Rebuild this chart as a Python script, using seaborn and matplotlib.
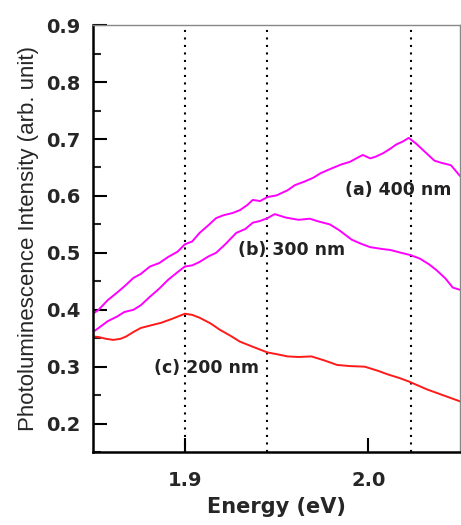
import numpy as np
import pandas as pd
import matplotlib
matplotlib.use("Agg")
import matplotlib.pyplot as plt
import seaborn as sns
from matplotlib.ticker import MultipleLocator

# (a) 400 nm
energy_a = [1.850, 1.853, 1.858, 1.863, 1.867, 1.872, 1.876, 1.881, 1.886, 1.891, 1.896,
            1.900, 1.904, 1.908, 1.913, 1.917, 1.921, 1.926, 1.930, 1.934, 1.937, 1.941,
            1.945, 1.950, 1.956, 1.960, 1.965, 1.970, 1.974, 1.979, 1.985, 1.990, 1.994,
            1.997, 2.001, 2.004, 2.008, 2.012, 2.015, 2.019, 2.022, 2.026, 2.030, 2.036,
            2.040, 2.045, 2.050]
pl_a = [0.393, 0.400, 0.417, 0.430, 0.441, 0.456, 0.463, 0.476, 0.482, 0.493, 0.502,
        0.515, 0.520, 0.535, 0.549, 0.561, 0.566, 0.570, 0.575, 0.584, 0.593, 0.591,
        0.598, 0.601, 0.610, 0.619, 0.625, 0.632, 0.640, 0.647, 0.655, 0.660, 0.667,
        0.672, 0.666, 0.669, 0.675, 0.683, 0.690, 0.696, 0.702, 0.692, 0.680, 0.662,
        0.658, 0.654, 0.635]

# (b) 300 nm
energy_b = [1.850, 1.853, 1.858, 1.863, 1.867, 1.872, 1.876, 1.881, 1.886, 1.891, 1.896,
            1.900, 1.904, 1.908, 1.913, 1.917, 1.922, 1.928, 1.933, 1.937, 1.941, 1.945,
            1.949, 1.955, 1.962, 1.968, 1.973, 1.979, 1.984, 1.991, 1.996, 2.001, 2.007,
            2.012, 2.018, 2.023, 2.028, 2.033, 2.037, 2.042, 2.046, 2.050]
pl_b = [0.361, 0.368, 0.380, 0.388, 0.396, 0.400, 0.408, 0.423, 0.437, 0.453, 0.466,
        0.476, 0.478, 0.484, 0.494, 0.500, 0.515, 0.535, 0.542, 0.553, 0.556, 0.561,
        0.568, 0.562, 0.558, 0.560, 0.555, 0.550, 0.540, 0.523, 0.516, 0.510, 0.507,
        0.505, 0.500, 0.496, 0.490, 0.480, 0.470, 0.455, 0.439, 0.435]

# (c) 200 nm
energy_c = [1.850, 1.853, 1.857, 1.861, 1.865, 1.868, 1.872, 1.876, 1.882, 1.887, 1.893,
            1.900, 1.904, 1.908, 1.914, 1.919, 1.925, 1.930, 1.937, 1.945, 1.950, 1.956,
            1.962, 1.969, 1.976, 1.983, 1.990, 1.998, 2.005, 2.011, 2.017, 2.022, 2.027,
            2.032, 2.038, 2.044, 2.050]
pl_c = [0.353, 0.352, 0.349, 0.347, 0.349, 0.353, 0.361, 0.368, 0.373, 0.377, 0.384,
        0.393, 0.391, 0.386, 0.376, 0.365, 0.354, 0.344, 0.335, 0.325, 0.322, 0.318,
        0.317, 0.318, 0.311, 0.303, 0.301, 0.300, 0.293, 0.286, 0.280, 0.274, 0.267,
        0.260, 0.253, 0.246, 0.239]

peak_lines = [1.900, 1.945, 2.023]

labels = ["(a) 400 nm", "(b) 300 nm", "(c) 200 nm"]
label_pos = [(2.016, 0.611), (1.958, 0.505), (1.912, 0.298)]

df = pd.concat([
    pd.DataFrame({"energy": energy_a, "pl": pl_a, "sample": labels[0]}),
    pd.DataFrame({"energy": energy_b, "pl": pl_b, "sample": labels[1]}),
    pd.DataFrame({"energy": energy_c, "pl": pl_c, "sample": labels[2]}),
])

sns.set_style("ticks")
plt.rcParams["font.family"] = ["DejaVu Sans"]

fig = plt.figure(figsize=(4.61, 5.25), dpi=100)
ax = fig.add_axes([0.202, 0.139, 0.796, 0.813])

colors = {labels[0]: "#ff00ff", labels[1]: "#ff00ff", labels[2]: "#ff1a1a"}
sns.lineplot(data=df, x="energy", y="pl", hue="sample", palette=colors,
             linewidth=1.4, legend=False, ax=ax, sort=False, estimator=None)

for xv in peak_lines:
    ax.axvline(xv, color="black", lw=1.5, linestyle=(0, (1, 2.6)), zorder=1)

for txt, (tx, ty) in zip(labels, label_pos):
    ax.text(tx, ty, txt, ha="center", va="center", fontsize=12.5,
            fontweight="bold", color="#222222")

ax.set_xlim(1.85, 2.05)
ax.set_ylim(0.15, 0.9)
ax.xaxis.set_major_locator(MultipleLocator(0.1))
ax.yaxis.set_major_locator(MultipleLocator(0.1))
ax.yaxis.set_minor_locator(MultipleLocator(0.05))
ax.tick_params(axis="both", which="major", direction="in", length=10, width=1.5,
               labelsize=14, color="black")
ax.tick_params(axis="x", which="major", pad=14)
ax.tick_params(axis="y", which="major", pad=9)
ax.tick_params(axis="y", which="minor", direction="in", length=6, width=1.5)
for lab in ax.get_xticklabels() + ax.get_yticklabels():
    lab.set_fontweight("bold")

for side in ["left", "bottom"]:
    ax.spines[side].set_linewidth(1.8)
    ax.spines[side].set_color("black")
for side in ["top", "right"]:
    ax.spines[side].set_linewidth(1.0)
    ax.spines[side].set_color("#888888")

ax.set_xlabel("Energy (eV)", fontsize=15, fontweight="bold", labelpad=5)
ax.set_ylabel("Photoluminescence Intensity (arb. unit)", fontsize=16,
              family=["Liberation Sans", "DejaVu Sans"], labelpad=5)

fig.savefig("out.png", dpi=100)
